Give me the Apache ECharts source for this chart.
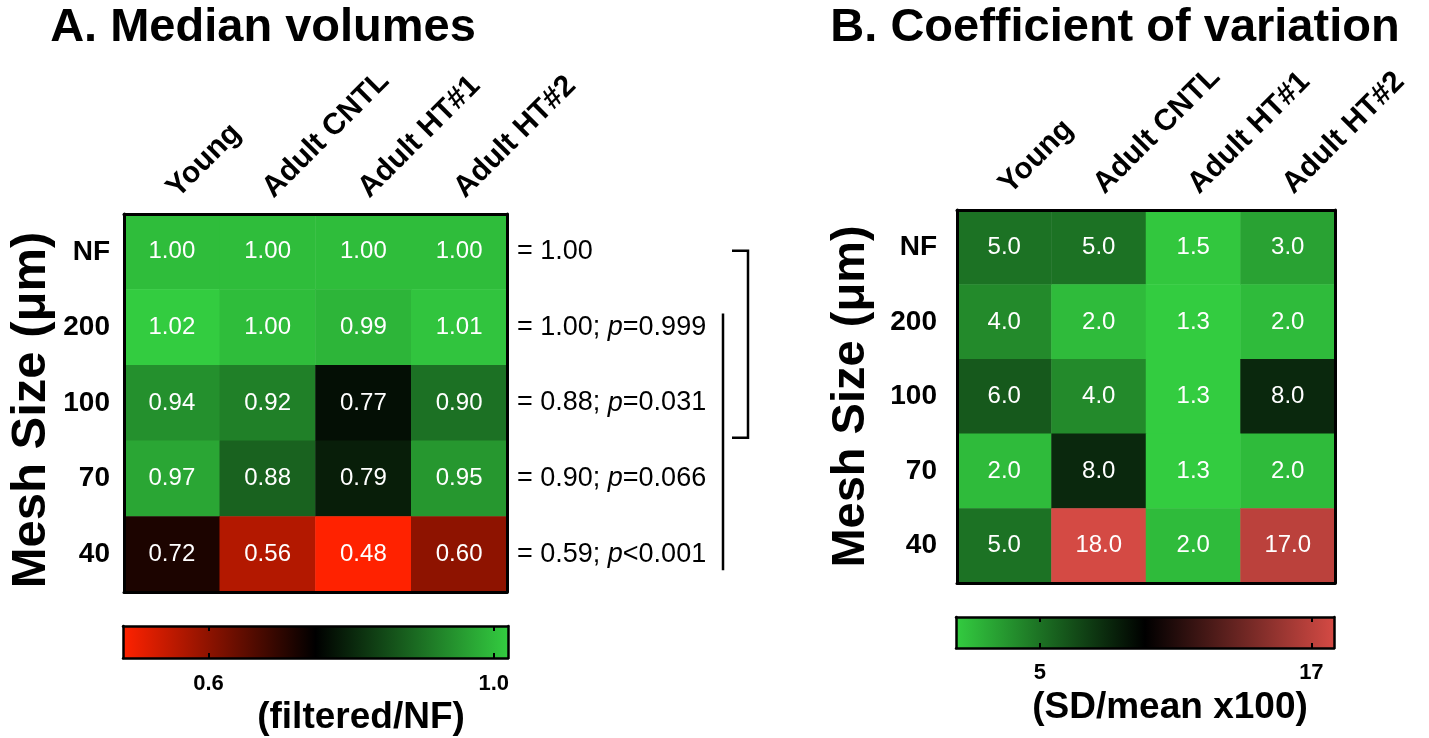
<!DOCTYPE html>
<html>
<head>
<meta charset="utf-8">
<script src="https://cdn.jsdelivr.net/npm/echarts@6/dist/echarts.min.js"></script>
<style>
html,body{margin:0;padding:0;background:#fff;}
#chart{width:1429px;height:738px;}
</style>
</head>
<body>
<div id="chart"></div>
<script>
// ---------- data ----------
const columns = ['Young', 'Adult CNTL', 'Adult HT#1', 'Adult HT#2'];
const meshSizes = ['NF', '200', '100', '70', '40'];
const medianVolumes = [
  [1.00, 1.00, 1.00, 1.00],
  [1.02, 1.00, 0.99, 1.01],
  [0.94, 0.92, 0.77, 0.90],
  [0.97, 0.88, 0.79, 0.95],
  [0.72, 0.56, 0.48, 0.60]
];
const cvValues = [
  [5.0, 5.0, 1.5, 3.0],
  [4.0, 2.0, 1.3, 2.0],
  [6.0, 4.0, 1.3, 8.0],
  [2.0, 8.0, 1.3, 2.0],
  [5.0, 18.0, 2.0, 17.0]
];
const rowMeans = ['1.00', '1.00', '0.88', '0.90', '0.59'];
const rowPValues = ['', '=0.999', '=0.031', '=0.066', '<0.001'];
const ticksA = [0.6, 1.0];
const tickLabelsA = ['0.6', '1.0'];
const ticksB = [5, 17];
const tickLabelsB = ['5', '17'];
const colorsA = ['#ff2200', '#000000', '#33cc40'];
const colorsB = ['#33cc40', '#000000', '#d44a44'];

// ---------- helpers ----------
const FONT = "'Liberation Sans', Arial, Helvetica, sans-serif";
function toCells(m) {
  const out = [];
  m.forEach((row, r) => row.forEach((v, c) => out.push([c, r, v])));
  return out;
}
function flat(m) { return m.reduce((a, r) => a.concat(r), []); }
const minA = Math.min(...flat(medianVolumes)), maxA = Math.max(...flat(medianVolumes));
const minB = Math.min(...flat(cvValues)), maxB = Math.max(...flat(cvValues));

function gradient(colors) {
  return new echarts.graphic.LinearGradient(0, 0, 1, 0,
    colors.map((c, i) => ({ offset: i / (colors.length - 1), color: c })));
}
function barRender(colors) {
  return function (params, api) {
    const p0 = api.coord([api.value(0), 0]);
    const p1 = api.coord([api.value(1), 1]);
    return {
      type: 'rect',
      shape: { x: p0[0], y: p1[1], width: p1[0] - p0[0], height: p0[1] - p1[1] },
      style: { fill: gradient(colors) }
    };
  };
}
const frameLine = { show: true, onZero: false, lineStyle: { color: '#000', width: 3 } };
const cbLine = { show: true, onZero: false, lineStyle: { color: '#000', width: 2.5 } };

function topCatAxis(grid) {
  return {
    type: 'category', gridIndex: grid, position: 'top', data: columns, z: 5,
    axisLine: frameLine, axisTick: { show: false },
    axisLabel: {
      interval: 0, rotate: -45, align: 'left', verticalAlign: 'middle', margin: 21,
      fontFamily: FONT, fontWeight: 'bold', fontSize: 30, color: '#000'
    }
  };
}
function bottomCatAxis(grid) {
  return {
    type: 'category', gridIndex: grid, position: 'bottom', data: columns, z: 5,
    axisLine: frameLine, axisTick: { show: false }, axisLabel: { show: false }
  };
}
function cbXAxis(grid, pos, min, max, ticks, labels, withLabels, margin) {
  return {
    type: 'value', gridIndex: grid, position: pos, min: min, max: max, z: 5,
    axisLine: cbLine,
    splitLine: { show: false },
    axisTick: { show: true, inside: true, length: 5, customValues: ticks, lineStyle: { color: '#000', width: 2 } },
    axisLabel: {
      show: withLabels, customValues: ticks, margin: margin,
      formatter: (v) => labels[ticks.indexOf(v)] !== undefined ? labels[ticks.indexOf(v)] : '',
      fontFamily: FONT, fontWeight: 'bold', fontSize: 22, color: '#000'
    }
  };
}
function cbYAxis(grid, pos) {
  return {
    type: 'value', gridIndex: grid, position: pos, min: 0, max: 1, z: 5,
    axisLine: cbLine, axisTick: { show: false }, axisLabel: { show: false }, splitLine: { show: false }
  };
}
const cellLabel = (digits) => ({
  show: true, color: '#fff', fontFamily: FONT, fontSize: 24,
  formatter: (p) => p.value[2].toFixed(digits)
});

const option = {
  backgroundColor: '#fff',
  animation: false,
  grid: [
    { left: 124, top: 214, width: 383, height: 378 },
    { left: 957, top: 210, width: 378, height: 373 },
    { left: 123, top: 626, width: 385, height: 32 },
    { left: 956, top: 617, width: 378, height: 31 }
  ],
  xAxis: [
    topCatAxis(0), bottomCatAxis(0), topCatAxis(1), bottomCatAxis(1),
    cbXAxis(2, 'bottom', minA, maxA, ticksA, tickLabelsA, true, 15),
    cbXAxis(2, 'top', minA, maxA, ticksA, tickLabelsA, false, 8),
    cbXAxis(3, 'bottom', minB, maxB, ticksB, tickLabelsB, true, 14),
    cbXAxis(3, 'top', minB, maxB, ticksB, tickLabelsB, false, 8)
  ],
  yAxis: [
    {
      type: 'category', gridIndex: 0, position: 'left', data: meshSizes, inverse: true, z: 5,
      axisLine: frameLine, axisTick: { show: false },
      axisLabel: { margin: 14, fontFamily: FONT, fontWeight: 'bold', fontSize: 28, color: '#000' },
      name: 'Mesh Size (μm)', nameLocation: 'middle', nameRotate: 90, nameGap: 68,
      nameTextStyle: { fontFamily: FONT, fontWeight: 'bold', fontSize: 49, color: '#000', padding: [0, 14, 0, 0] }
    },
    {
      type: 'category', gridIndex: 0, position: 'right', inverse: true, z: 5,
      data: rowMeans.map((m, i) => rowPValues[i] ? '= ' + m + '; {i|p}' + rowPValues[i] : '= ' + m),
      axisLine: frameLine, axisTick: { show: false },
      axisLabel: {
        margin: 10, align: 'left', fontFamily: FONT, fontSize: 27, color: '#000',
        rich: { i: { fontFamily: FONT, fontSize: 27, fontStyle: 'italic', color: '#000' } }
      }
    },
    {
      type: 'category', gridIndex: 1, position: 'left', data: meshSizes, inverse: true, z: 5,
      axisLine: frameLine, axisTick: { show: false },
      axisLabel: { margin: 20, fontFamily: FONT, fontWeight: 'bold', fontSize: 28, color: '#000' },
      name: 'Mesh Size (μm)', nameLocation: 'middle', nameRotate: 90, nameGap: 82,
      nameTextStyle: { fontFamily: FONT, fontWeight: 'bold', fontSize: 47, color: '#000' }
    },
    {
      type: 'category', gridIndex: 1, position: 'right', data: meshSizes, inverse: true, z: 5,
      axisLine: frameLine, axisTick: { show: false }, axisLabel: { show: false }
    },
    cbYAxis(2, 'left'), cbYAxis(2, 'right'), cbYAxis(3, 'left'), cbYAxis(3, 'right')
  ],
  visualMap: [
    { show: false, type: 'continuous', seriesIndex: 0, min: minA, max: maxA, inRange: { color: colorsA } },
    { show: false, type: 'continuous', seriesIndex: 1, min: minB, max: maxB, inRange: { color: colorsB } }
  ],
  series: [
    {
      type: 'heatmap', xAxisIndex: 0, yAxisIndex: 0, data: toCells(medianVolumes),
      label: cellLabel(2), emphasis: { disabled: true }, itemStyle: { borderWidth: 0 }
    },
    {
      type: 'heatmap', xAxisIndex: 2, yAxisIndex: 2, data: toCells(cvValues),
      label: cellLabel(1), emphasis: { disabled: true }, itemStyle: { borderWidth: 0 }
    },
    {
      type: 'custom', xAxisIndex: 4, yAxisIndex: 4, renderItem: barRender(colorsA),
      dimensions: ['lo', 'hi', 'mid'], encode: { x: [0, 1], y: 2 },
      data: [[minA, maxA, 0.5]], silent: true
    },
    {
      type: 'custom', xAxisIndex: 6, yAxisIndex: 6, renderItem: barRender(colorsB),
      dimensions: ['lo', 'hi', 'mid'], encode: { x: [0, 1], y: 2 },
      data: [[minB, maxB, 0.5]], silent: true
    }
  ]
};

const chart = echarts.init(document.getElementById('chart'), null, { renderer: 'canvas' });
chart.setOption(option);

// titles, captions and bracket annotations
function rowY(i) { return chart.convertToPixel({ yAxisIndex: 0 }, meshSizes[i]); }
const rowH = 378 / meshSizes.length;
const bx1 = 748, bx2 = 723, hook = 16;
const yTop = rowY(0) - 1, yBot = rowY(2) + rowH / 2 - 3;
const lTop = rowY(1) - 14, lBot = rowY(4) + 16;
const lineStyle = { stroke: '#000', lineWidth: 2.5 };
chart.setOption({
  graphic: [
    { type: 'text', x: 263, y: 28, style: { text: 'A. Median volumes', font: 'bold 47px ' + FONT, fill: '#000', textAlign: 'center', textVerticalAlign: 'middle' } },
    { type: 'text', x: 1115, y: 28, style: { text: 'B. Coefficient of variation', font: 'bold 47px ' + FONT, fill: '#000', textAlign: 'center', textVerticalAlign: 'middle' } },
    { type: 'text', x: 361, y: 718, style: { text: '(filtered/NF)', font: 'bold 37px ' + FONT, fill: '#000', textAlign: 'center', textVerticalAlign: 'middle' } },
    { type: 'text', x: 1170, y: 708, style: { text: '(SD/mean x100)', font: 'bold 37px ' + FONT, fill: '#000', textAlign: 'center', textVerticalAlign: 'middle' } },
    { type: 'polyline', shape: { points: [[bx1 - hook, yTop], [bx1, yTop], [bx1, yBot], [bx1 - hook, yBot]] }, style: lineStyle },
    { type: 'line', shape: { x1: bx2, y1: lTop, x2: bx2, y2: lBot }, style: lineStyle }
  ]
});
</script>
</body>
</html>
